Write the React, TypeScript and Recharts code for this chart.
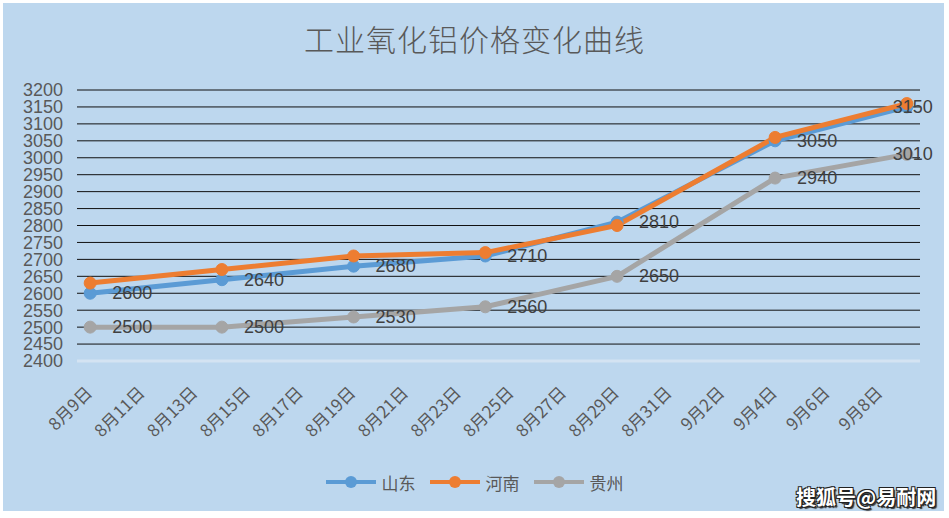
import React from "react";
import { LineChart, Line, XAxis, YAxis, CartesianGrid, Legend, LabelList } from "recharts";

// Days after 8月9日 for each observation (8/9, 8/14, 8/19, 8/24, 8/29, 9/4, 9/9)
const dayOffsets = [0, 5, 10, 15, 20, 26, 31];
const shandong = [2600, 2640, 2680, 2710, 2810, 3050, 3150];
const henan = [2630, 2670, 2710, 2720, 2800, 3060, 3160];
const guizhou = [2500, 2500, 2530, 2560, 2650, 2940, 3010];

const tickLabels = [
  "8月9日", "8月11日", "8月13日", "8月15日", "8月17日", "8月19日", "8月21日", "8月23日",
  "8月25日", "8月27日", "8月29日", "8月31日", "9月2日", "9月4日", "9月6日", "9月8日",
];
const yTicks = [2400, 2450, 2500, 2550, 2600, 2650, 2700, 2750, 2800, 2850, 2900, 2950, 3000, 3050, 3100, 3150, 3200];

const seriesNames = ["山东", "河南", "贵州"];
const colors = ["#5B9BD5", "#ED7D31", "#A5A5A5"];

const tickDays = tickLabels.map((_, i) => i * 2);
const data = dayOffsets.map((d, i) => ({ d, sd: shandong[i], hn: henan[i], gz: guizhou[i] }));

const NUM_FONT = "'Liberation Sans', Arial, 'Noto Sans CJK SC', sans-serif";
const CJK_FONT = "'Noto Sans CJK SC', 'Liberation Sans', sans-serif";

const XTick = (props: any) => {
  const { x, y, payload } = props;
  const idx = tickDays.indexOf(payload.value);
  return (
    <g transform={`translate(${x + 3},${y + 25})`}>
      <text textAnchor="end" transform="rotate(-45)" fontSize={17} fill="#595959" fontFamily={CJK_FONT}>
        {idx >= 0 ? tickLabels[idx] : ""}
      </text>
    </g>
  );
};

const makeLabel = (count: number) => (props: any) => {
  const { x, y, value, index } = props;
  const last = index === count - 1;
  return (
    <text
      x={last ? x - 14 : x + 22}
      y={y}
      dominantBaseline="central"
      fontSize={18}
      fill="#404040"
      fontFamily={NUM_FONT}
    >
      {value}
    </text>
  );
};

const LegendContent = () => (
  <div style={{ display: "flex", justifyContent: "center", alignItems: "center", paddingTop: 4, height: 20, width: 949 }}>
    {seriesNames.map((n, i) => (
      <div key={n} style={{ display: "flex", alignItems: "center", marginLeft: i === 0 ? 0 : 14 }}>
        <svg width={50} height={16}>
          <line x1={0} y1={8} x2={50} y2={8} stroke={colors[i]} strokeWidth={4} />
          <circle cx={25} cy={8} r={6} fill={colors[i]} />
        </svg>
        <span style={{ marginLeft: 6, fontSize: 17, color: "#595959", fontFamily: CJK_FONT }}>{n}</span>
      </div>
    ))}
  </div>
);

export default function App() {
  return (
    <div style={{ position: "absolute", left: 0, top: 0, width: 949, height: 518, background: "#ffffff" }}>
      <div style={{ position: "absolute", left: 3, top: 3, width: 941, height: 508, background: "#BDD7EE" }} />
      <div
        style={{
          position: "absolute",
          left: 0,
          top: 18,
          width: 949,
          textAlign: "center",
          fontSize: 30,
          fontWeight: 300,
          color: "#595959",
          fontFamily: CJK_FONT,
          lineHeight: "40px",
          letterSpacing: 1,
        }}
      >
        工业氧化铝价格变化曲线
      </div>
      <div style={{ position: "absolute", left: 0, top: 0 }}>
        <LineChart width={949} height={518} data={data} margin={{ top: 90, right: 29, left: 0, bottom: 0 }}>
          <CartesianGrid vertical={false} stroke="#111111" strokeWidth={1} />
          <XAxis
            type="number"
            dataKey="d"
            domain={[-0.5, 31.5]}
            ticks={tickDays}
            interval={0}
            tick={<XTick />}
            tickLine={false}
            axisLine={{ stroke: "#d4e3f2", strokeWidth: 3 }}
            height={107}
          />
          <YAxis
            type="number"
            domain={[2400, 3200]}
            ticks={yTicks}
            interval={0}
            width={77}
            axisLine={false}
            tickLine={false}
            tickMargin={8}
            tick={{ fontSize: 18, fill: "#595959", fontFamily: NUM_FONT }}
          />
          <Legend
            verticalAlign="bottom"
            height={50}
            wrapperStyle={{ left: 0, width: 949 }}
            content={<LegendContent />}
          />
          <Line
            dataKey="sd"
            name={seriesNames[0]}
            stroke={colors[0]}
            strokeWidth={5}
            dot={{ r: 6, fill: colors[0], stroke: colors[0], strokeWidth: 1 }}
            isAnimationActive={false}
          >
            <LabelList dataKey="sd" content={makeLabel(shandong.length)} />
          </Line>
          <Line
            dataKey="hn"
            name={seriesNames[1]}
            stroke={colors[1]}
            strokeWidth={5}
            dot={{ r: 6, fill: colors[1], stroke: colors[1], strokeWidth: 1 }}
            isAnimationActive={false}
          />
          <Line
            dataKey="gz"
            name={seriesNames[2]}
            stroke={colors[2]}
            strokeWidth={5}
            dot={{ r: 6, fill: colors[2], stroke: colors[2], strokeWidth: 1 }}
            isAnimationActive={false}
          >
            <LabelList dataKey="gz" content={makeLabel(guizhou.length)} />
          </Line>
        </LineChart>
      </div>
      <div
        style={{
          position: "absolute",
          left: 796,
          top: 484,
          fontSize: 20,
          fontWeight: 700,
          color: "#ffffff",
          fontFamily: CJK_FONT,
          lineHeight: "26px",
          textShadow:
            "1px 1px 0 #222, -1px -1px 0 #222, 1px -1px 0 #222, -1px 1px 0 #222, 2px 2px 1px #333",
        }}
      >
        搜狐号@易耐网
      </div>
    </div>
  );
}
